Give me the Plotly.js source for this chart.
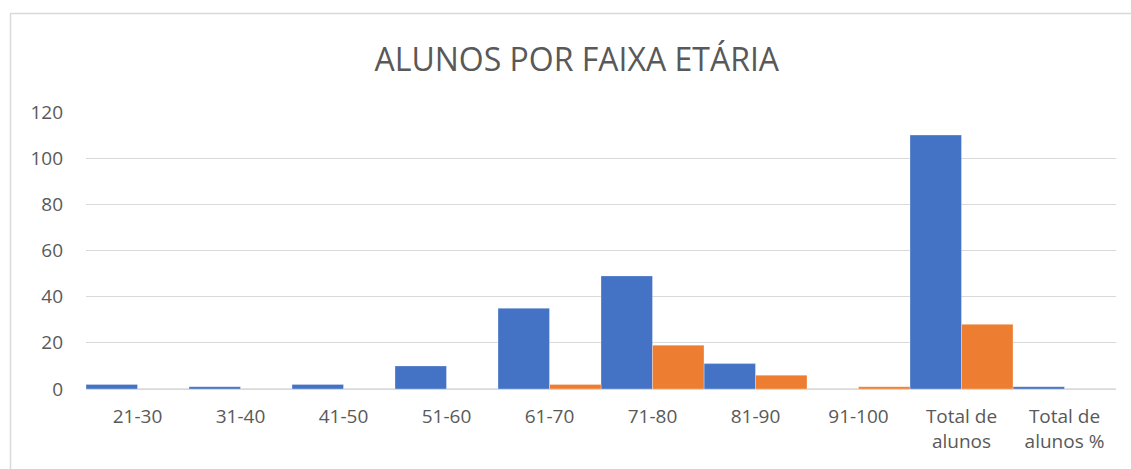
<!DOCTYPE html>
<html>
<head>
<meta charset="utf-8">
<script src="https://cdn.plot.ly/plotly-3.0.1.min.js"></script>
<style>html,body{margin:0;padding:0;background:#fff;}#chart{width:1131px;height:469px;}</style>
</head>
<body>
<div id="chart"></div>
<script>
const categories = ["21-30", "31-40", "41-50", "51-60", "61-70", "71-80", "81-90", "91-100", "Total de<br>alunos", "Total de<br>alunos %"];
const seriesBlue = [2, 1, 2, 10, 35, 49, 11, 0, 110, 1];
const seriesOrange = [0, 0, 0, 0, 2, 19, 6, 1, 28, 0];
const yTicks = [0, 20, 40, 60, 80, 100, 120];
const titleText = "ALUNOS POR FAIXA ETÁRIA";

const font = "Open Sans, Liberation Sans, sans-serif";
const traces = [
  {type: "bar", name: "Série 1", x: categories, y: seriesBlue,
   marker: {color: "#4472C4", line: {color: "rgba(255,255,255,0.6)", width: 0.5}}, hoverinfo: "x+y"},
  {type: "bar", name: "Série 2", x: categories, y: seriesOrange,
   marker: {color: "#ED7D31", line: {color: "rgba(255,255,255,0.6)", width: 0.5}}, hoverinfo: "x+y"}
];
const layout = {
  width: 1131, height: 469,
  margin: {l: 86, r: 15, t: 112, b: 80},
  paper_bgcolor: "#ffffff", plot_bgcolor: "#ffffff",
  showlegend: false,
  barmode: "group", bargap: 0, bargroupgap: 0,
  font: {family: font, color: "#595959", size: 19},
  title: {text: titleText, font: {family: font, size: 32, color: "#595959"},
          x: 0.51, xref: "container", xanchor: "center", y: 0.872, yref: "container", yanchor: "middle"},
  xaxis: {type: "category", showgrid: false, zeroline: false, showline: false,
          ticks: "", tickfont: {size: 19, color: "#595959"}, ticklabelstandoff: 14},
  yaxis: {range: [0, 120], tickvals: yTicks, ticktext: yTicks.map(String),
          showgrid: true, gridcolor: "#d9d9d9", gridwidth: 1.3,
          zeroline: true, zerolinecolor: "#d9d9d9", zerolinewidth: 1.8,
          showline: false, ticks: "", tickfont: {size: 19, color: "#595959"}, ticklabelstandoff: 22},
  shapes: [
    {type: "rect", xref: "paper", yref: "paper",
     x0: (10.5 - 86) / 1030, x1: (1140 - 86) / 1030,
     y0: (389 - 480) / 277, y1: (389 - 13.5) / 277,
     line: {color: "#d9d9d9", width: 1.5}, fillcolor: "rgba(0,0,0,0)", layer: "below"}
  ]
};
Plotly.newPlot("chart", traces, layout, {displayModeBar: false, staticPlot: true});
</script>
</body>
</html>
